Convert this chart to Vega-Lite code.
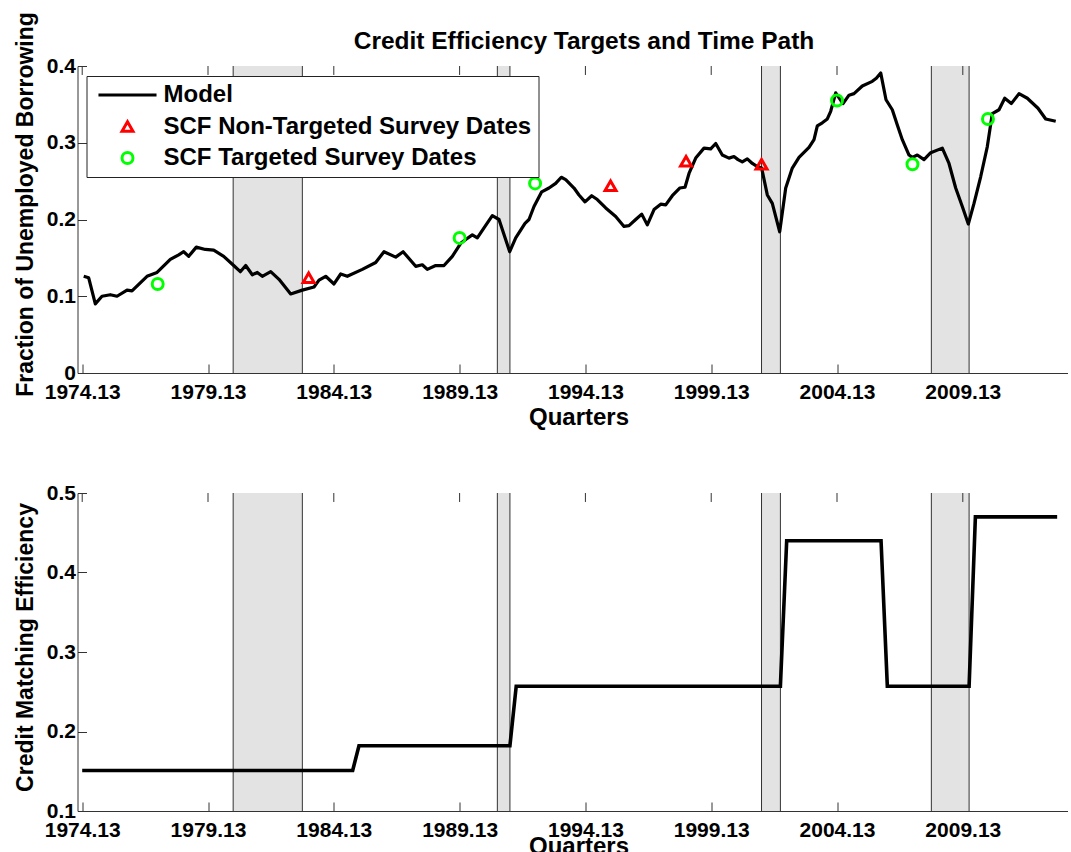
{
  "$schema": "https://vega.github.io/schema/vega-lite/v6.json",
  "background": "white",
  "padding": {"left": 14.5, "top": 11, "right": 0, "bottom": 0},
  "config": {
    "font": "Liberation Sans",
    "view": {"stroke": null},
    "axis": {
      "labelFont": "Liberation Sans", "labelFontSize": 21, "labelFontWeight": "bold", "labelColor": "black",
      "titleFont": "Liberation Sans", "titleFontSize": 24, "titleFontWeight": "bold", "titleColor": "black",
      "grid": false, "domainColor": "#333", "tickColor": "#333", "tickSize": -9, "labelPadding": 17,
      "labelOverlap": false, "labelFlush": false
    },
    "legend": {
      "orient": "none", "legendX": 9, "legendY": 10, "padding": 7,
      "strokeColor": "#222", "fillColor": "white", "strokeWidth": 1, "cornerRadius": 0,
      "labelFont": "Liberation Sans", "labelFontSize": 24, "labelFontWeight": "bold", "labelColor": "black",
      "symbolSize": 120, "symbolStrokeWidth": 3, "symbolOffset": 22, "labelOffset": 24, "rowPadding": 7.5,
      "labelLimit": 600
    }
  },
  "datasets": {
    "bands": [
      {"start": 1980.125, "end": 1982.875},
      {"start": 1990.625, "end": 1991.125},
      {"start": 2001.125, "end": 2001.875},
      {"start": 2007.875, "end": 2009.375}
    ],
    "ticks": [
      {"year": 1974.125}, {"year": 1979.125}, {"year": 1984.125}, {"year": 1989.125},
      {"year": 1994.125}, {"year": 1999.125}, {"year": 2004.125}, {"year": 2009.125}
    ],
    "model": [
      {"year": 1974.185, "value": 0.126}, {"year": 1974.383, "value": 0.124}, {"year": 1974.646, "value": 0.090},
      {"year": 1974.912, "value": 0.100}, {"year": 1975.242, "value": 0.102}, {"year": 1975.508, "value": 0.100},
      {"year": 1975.906, "value": 0.108}, {"year": 1976.104, "value": 0.107}, {"year": 1976.701, "value": 0.126},
      {"year": 1977.100, "value": 0.131}, {"year": 1977.627, "value": 0.148}, {"year": 1977.960, "value": 0.154},
      {"year": 1978.159, "value": 0.158}, {"year": 1978.358, "value": 0.152}, {"year": 1978.660, "value": 0.164},
      {"year": 1979.018, "value": 0.161}, {"year": 1979.352, "value": 0.160}, {"year": 1979.749, "value": 0.152},
      {"year": 1980.146, "value": 0.140}, {"year": 1980.409, "value": 0.132}, {"year": 1980.623, "value": 0.140},
      {"year": 1980.886, "value": 0.128}, {"year": 1981.084, "value": 0.131}, {"year": 1981.283, "value": 0.126},
      {"year": 1981.617, "value": 0.132}, {"year": 1981.947, "value": 0.122}, {"year": 1982.412, "value": 0.103},
      {"year": 1982.873, "value": 0.108}, {"year": 1983.338, "value": 0.112}, {"year": 1983.537, "value": 0.121},
      {"year": 1983.803, "value": 0.126}, {"year": 1984.133, "value": 0.116}, {"year": 1984.399, "value": 0.129},
      {"year": 1984.661, "value": 0.126}, {"year": 1985.258, "value": 0.135}, {"year": 1985.790, "value": 0.144},
      {"year": 1986.120, "value": 0.158}, {"year": 1986.585, "value": 0.151}, {"year": 1986.880, "value": 0.158},
      {"year": 1987.380, "value": 0.139}, {"year": 1987.642, "value": 0.141}, {"year": 1987.841, "value": 0.135},
      {"year": 1988.175, "value": 0.140}, {"year": 1988.505, "value": 0.140}, {"year": 1988.835, "value": 0.152},
      {"year": 1989.169, "value": 0.169}, {"year": 1989.368, "value": 0.174}, {"year": 1989.630, "value": 0.180},
      {"year": 1989.829, "value": 0.176}, {"year": 1990.095, "value": 0.189}, {"year": 1990.425, "value": 0.205},
      {"year": 1990.691, "value": 0.200}, {"year": 1991.116, "value": 0.158}, {"year": 1991.355, "value": 0.176},
      {"year": 1991.724, "value": 0.195}, {"year": 1991.883, "value": 0.200}, {"year": 1992.082, "value": 0.217},
      {"year": 1992.388, "value": 0.236}, {"year": 1992.678, "value": 0.241}, {"year": 1992.944, "value": 0.247},
      {"year": 1993.167, "value": 0.255}, {"year": 1993.342, "value": 0.252}, {"year": 1993.672, "value": 0.241},
      {"year": 1993.870, "value": 0.232}, {"year": 1994.109, "value": 0.223}, {"year": 1994.375, "value": 0.231},
      {"year": 1994.598, "value": 0.226}, {"year": 1994.932, "value": 0.215}, {"year": 1995.329, "value": 0.204},
      {"year": 1995.659, "value": 0.191}, {"year": 1995.858, "value": 0.192}, {"year": 1996.124, "value": 0.200},
      {"year": 1996.363, "value": 0.207}, {"year": 1996.585, "value": 0.193}, {"year": 1996.852, "value": 0.213},
      {"year": 1997.118, "value": 0.220}, {"year": 1997.317, "value": 0.219}, {"year": 1997.579, "value": 0.231},
      {"year": 1997.873, "value": 0.241}, {"year": 1998.084, "value": 0.242}, {"year": 1998.243, "value": 0.260},
      {"year": 1998.509, "value": 0.280}, {"year": 1998.839, "value": 0.293}, {"year": 1999.105, "value": 0.292},
      {"year": 1999.304, "value": 0.299}, {"year": 1999.566, "value": 0.284}, {"year": 1999.830, "value": 0.280},
      {"year": 2000.030, "value": 0.282}, {"year": 2000.190, "value": 0.278}, {"year": 2000.360, "value": 0.275},
      {"year": 2000.560, "value": 0.279}, {"year": 2000.760, "value": 0.273}, {"year": 2000.960, "value": 0.269},
      {"year": 2001.130, "value": 0.267}, {"year": 2001.355, "value": 0.232}, {"year": 2001.553, "value": 0.221},
      {"year": 2001.847, "value": 0.184}, {"year": 2002.086, "value": 0.241}, {"year": 2002.348, "value": 0.267},
      {"year": 2002.615, "value": 0.281}, {"year": 2003.012, "value": 0.294}, {"year": 2003.211, "value": 0.304},
      {"year": 2003.342, "value": 0.322}, {"year": 2003.541, "value": 0.326}, {"year": 2003.740, "value": 0.331},
      {"year": 2003.874, "value": 0.341}, {"year": 2004.073, "value": 0.365}, {"year": 2004.363, "value": 0.351},
      {"year": 2004.602, "value": 0.362}, {"year": 2004.801, "value": 0.364}, {"year": 2005.131, "value": 0.374},
      {"year": 2005.528, "value": 0.380}, {"year": 2005.687, "value": 0.384}, {"year": 2005.862, "value": 0.391},
      {"year": 2006.073, "value": 0.356}, {"year": 2006.323, "value": 0.343}, {"year": 2006.522, "value": 0.323},
      {"year": 2006.720, "value": 0.304}, {"year": 2006.987, "value": 0.284}, {"year": 2007.118, "value": 0.281},
      {"year": 2007.317, "value": 0.284}, {"year": 2007.583, "value": 0.278}, {"year": 2007.849, "value": 0.287},
      {"year": 2008.310, "value": 0.293}, {"year": 2008.576, "value": 0.273}, {"year": 2008.842, "value": 0.241},
      {"year": 2009.105, "value": 0.217}, {"year": 2009.344, "value": 0.194}, {"year": 2009.570, "value": 0.221},
      {"year": 2009.837, "value": 0.256}, {"year": 2010.099, "value": 0.295}, {"year": 2010.298, "value": 0.338},
      {"year": 2010.564, "value": 0.343}, {"year": 2010.791, "value": 0.358}, {"year": 2011.053, "value": 0.351},
      {"year": 2011.359, "value": 0.364}, {"year": 2011.689, "value": 0.358}, {"year": 2012.114, "value": 0.345},
      {"year": 2012.420, "value": 0.331}, {"year": 2012.818, "value": 0.328}
    ],
    "scf": [
      {"year": 1983.125, "value": 0.124, "series": "SCF Non-Targeted Survey Dates"},
      {"year": 1995.125, "value": 0.244, "series": "SCF Non-Targeted Survey Dates"},
      {"year": 1998.125, "value": 0.276, "series": "SCF Non-Targeted Survey Dates"},
      {"year": 2001.125, "value": 0.272, "series": "SCF Non-Targeted Survey Dates"},
      {"year": 1977.125, "value": 0.116, "series": "SCF Targeted Survey Dates"},
      {"year": 1989.125, "value": 0.176, "series": "SCF Targeted Survey Dates"},
      {"year": 1992.125, "value": 0.247, "series": "SCF Targeted Survey Dates"},
      {"year": 2004.125, "value": 0.355, "series": "SCF Targeted Survey Dates"},
      {"year": 2007.125, "value": 0.272, "series": "SCF Targeted Survey Dates"},
      {"year": 2010.125, "value": 0.331, "series": "SCF Targeted Survey Dates"}
    ],
    "efficiency": [
      {"year": 1974.125, "value": 0.151}, {"year": 1984.875, "value": 0.151},
      {"year": 1985.125, "value": 0.182}, {"year": 1991.125, "value": 0.182},
      {"year": 1991.375, "value": 0.257}, {"year": 2001.875, "value": 0.257},
      {"year": 2002.125, "value": 0.44}, {"year": 2005.875, "value": 0.44},
      {"year": 2006.125, "value": 0.257}, {"year": 2009.375, "value": 0.257},
      {"year": 2009.625, "value": 0.47}, {"year": 2012.875, "value": 0.47}
    ]
  },
  "bounds": "flush",
  "spacing": 120,
  "vconcat": [
    {
      "width": 990,
      "height": 307,
      "title": {"text": "Credit Efficiency Targets and Time Path", "fontSize": 24.5, "fontWeight": "bold", "font": "Liberation Sans", "color": "black", "anchor": "middle", "frame": "group", "offset": 2, "dx": 11.5, "dy": 45},
      "layer": [
        {
          "data": {"name": "bands"},
          "mark": {"type": "rect", "fill": "#e3e3e3"},
          "encoding": {
            "x": {"field": "start", "type": "quantitative", "scale": {"domain": [1973.938, 2013.286], "nice": false, "zero": false},
                  "axis": {"orient": "bottom", "title": "Quarters", "titlePadding": 3, "titleX": 501, "values": [1974.125, 1979.125, 1984.125, 1989.125, 1994.125, 1999.125, 2004.125, 2009.125], "format": ".2f"}},
            "x2": {"field": "end"}
          }
        },
        {
          "data": {"name": "bands"},
          "mark": {"type": "rule", "color": "#333", "strokeWidth": 1},
          "encoding": {"x": {"field": "start", "type": "quantitative"}}
        },
        {
          "data": {"name": "bands"},
          "mark": {"type": "rule", "color": "#333", "strokeWidth": 1},
          "encoding": {"x": {"field": "end", "type": "quantitative"}}
        },
        {
          "mark": {"type": "rule", "color": "#777", "strokeWidth": 1},
          "encoding": {"y": {"datum": 0.4}}
        },
        {
          "data": {"name": "ticks"},
          "mark": {"type": "rule", "color": "#333", "strokeWidth": 1},
          "encoding": {"x": {"field": "year", "type": "quantitative"}, "y": {"datum": 0.4}, "y2": {"datum": 0.3883}}
        },
        {
          "data": {"name": "model"},
          "mark": {"type": "line", "color": "black", "strokeWidth": 3.2, "strokeJoin": "round"},
          "encoding": {
            "x": {"field": "year", "type": "quantitative"},
            "y": {"field": "value", "type": "quantitative", "scale": {"domain": [0, 0.4], "nice": false, "zero": false},
                  "axis": {"title": "Fraction of Unemployed Borrowing", "titleFontSize": 23, "titlePadding": 8.5, "titleY": 138, "labelPadding": 11, "values": [0, 0.1, 0.2, 0.3, 0.4], "labelExpr": "datum.value === 0 ? '0' : format(datum.value, '.1f')"}}
          }
        },
        {
          "data": {"name": "scf"},
          "mark": {"type": "point", "filled": false, "strokeWidth": 3, "size": 120, "opacity": 1},
          "encoding": {
            "x": {"field": "year", "type": "quantitative"},
            "y": {"field": "value", "type": "quantitative"},
            "color": {"field": "series", "type": "nominal",
                      "scale": {"domain": ["Model", "SCF Non-Targeted Survey Dates", "SCF Targeted Survey Dates"], "range": ["black", "#ff0000", "#00ff00"]},
                      "legend": {"title": null}},
            "shape": {"field": "series", "type": "nominal",
                      "scale": {"domain": ["Model", "SCF Non-Targeted Survey Dates", "SCF Targeted Survey Dates"], "range": ["M-5.3,0L5.3,0", "triangle-up", "circle"]},
                      "legend": {"title": null}}
          }
        }
      ]
    },
    {
      "width": 990,
      "height": 318,
      "layer": [
        {
          "data": {"name": "bands"},
          "mark": {"type": "rect", "fill": "#e3e3e3"},
          "encoding": {
            "x": {"field": "start", "type": "quantitative", "scale": {"domain": [1973.938, 2013.286], "nice": false, "zero": false},
                  "axis": {"orient": "bottom", "title": "Quarters", "titlePadding": -6, "titleX": 501, "values": [1974.125, 1979.125, 1984.125, 1989.125, 1994.125, 1999.125, 2004.125, 2009.125], "format": ".2f"}},
            "x2": {"field": "end"}
          }
        },
        {
          "data": {"name": "bands"},
          "mark": {"type": "rule", "color": "#333", "strokeWidth": 1},
          "encoding": {"x": {"field": "start", "type": "quantitative"}}
        },
        {
          "data": {"name": "bands"},
          "mark": {"type": "rule", "color": "#333", "strokeWidth": 1},
          "encoding": {"x": {"field": "end", "type": "quantitative"}}
        },
        {
          "mark": {"type": "rule", "color": "#777", "strokeWidth": 1},
          "encoding": {"y": {"datum": 0.5}}
        },
        {
          "data": {"name": "ticks"},
          "mark": {"type": "rule", "color": "#333", "strokeWidth": 1},
          "encoding": {"x": {"field": "year", "type": "quantitative"}, "y": {"datum": 0.5}, "y2": {"datum": 0.4887}}
        },
        {
          "data": {"name": "efficiency"},
          "mark": {"type": "line", "color": "black", "strokeWidth": 3.6, "strokeJoin": "miter"},
          "encoding": {
            "x": {"field": "year", "type": "quantitative"},
            "y": {"field": "value", "type": "quantitative", "scale": {"domain": [0.1, 0.5], "nice": false, "zero": false},
                  "axis": {"title": "Credit Matching Efficiency", "titleFontSize": 23, "titlePadding": 8.5, "titleY": 154, "labelPadding": 11, "values": [0.1, 0.2, 0.3, 0.4, 0.5], "format": ".1f"}}
          }
        }
      ]
    }
  ]
}
